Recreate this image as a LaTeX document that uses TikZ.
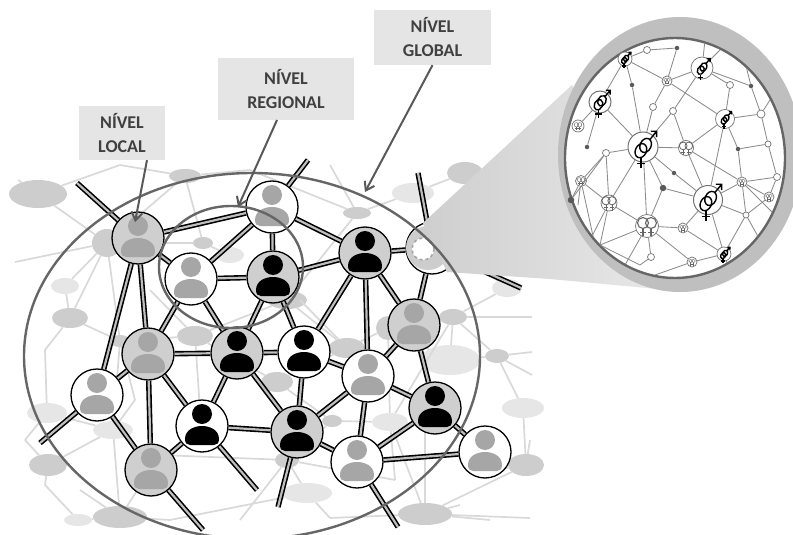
\documentclass[tikz,border=0pt]{standalone}
\usepackage{fontspec}
\setmainfont{Carlito}
\usetikzlibrary{shapes.geometric,arrows.meta}
\definecolor{bgA}{HTML}{CDCDCD}
\definecolor{bgB}{HTML}{E6E6E6}
\definecolor{nodeg}{HTML}{CFCFCF}
\definecolor{persg}{HTML}{A6A6A6}
\definecolor{ringc}{HTML}{666666}
\tikzset{
  x=1pt,y=-1pt,
  bgell/.style={ellipse,inner sep=0,fill=#1,draw=none},
  bgline/.style={draw=black!15,line width=1.7pt},
  bar/.style={draw=black,line width=1.6pt,double=black!25,double distance=2.2pt},
  person/.style={path picture={
    \fill[#1,shift={(path picture bounding box.center)}]
      (0,-12) circle[radius=10]
      (-17,13) .. controls (-17,4) and (-8,0) .. (0,0) .. controls (8,0) and (17,4) .. (17,13)
      .. controls (17,17) and (15,19) .. (12,19) -- (-12,19) .. controls (-15,19) and (-17,17) .. (-17,13) -- cycle;}},
  pnode/.style 2 args={circle,draw=black,line width=1.3pt,fill=#1,minimum size=52pt,inner sep=0,person=#2},
  lab/.style={fill=black!10,text=black!75,font=\fontsize{18}{24}\selectfont\bfseries,align=center,inner sep=0},
  callout/.style={draw=black!65,line width=2pt,-{Straight Barb[length=8pt,width=11pt]}},
  ring/.style={draw=ringc,line width=2.4pt},
  sn/.style={circle,draw=black!55,fill=white,line width=.7pt,inner sep=0},
  dot/.style={circle,fill=black!65,inner sep=0},
  nl/.style={draw=black!45,line width=.85pt},
}
\newcommand{\bgn}[6]{\node[bgell=#6,minimum width=#4*2pt,minimum height=#5*2pt] (#1) at (#2,#3) {};}
% interlocked female and male sign: #1 node, #2 scale
\newcommand{\gmix}[2]{\begin{scope}[shift={(#1)},scale=#2,draw=black,line width=1.4pt]
  \draw (-2,3.5) ellipse[x radius=5.2,y radius=7,rotate=-25];
  \draw (2.5,-1.5) ellipse[x radius=5.2,y radius=7,rotate=-25];
  \draw (6.5,-7) -- (13,-15) (7.5,-15) -- (13,-15) -- (13,-9.5);
  \draw (-2,10.5) -- (-2,20) (-6,15.5) -- (2,15.5);
\end{scope}}
% doubled female sign: #1 node, #2 scale
\newcommand{\gfem}[2]{\begin{scope}[shift={(#1)},scale=#2,draw=black!60,line width=#2*1.1pt]
  \draw (-4,-3) circle[radius=5.5] (4,-3) circle[radius=5.5];
  \draw (-4,2.5) -- (-4,10) (4,2.5) -- (4,10) (-7,6.5) -- (-1,6.5) (1,6.5) -- (7,6.5);
\end{scope}}
\begin{document}
\begin{tikzpicture}
\useasboundingbox (0,0) rectangle (793,535);
\fill[white] (0,0) rectangle (793,535);

% faint background network
\foreach \n/\x/\y in {c1/18/180,c2/15/262,c3/120/165,c4/250/170,c5/330/165,c6/45/350,c7/25/440,c8/45/485,c9/80/490,c10/532/317,c11/532/352,c12/532/375,c13/530/440,c14/530/518,c15/330/518,c16/425/430,c17/160/455,c18/200/410,c19/240/520,c20/300/300,c21/500/200,c22/445/240,c23/170/520,c24/135/400,c25/150/290,c26/495/470,c27/460/505,c28/395/480,c29/490/520}
  \coordinate (\n) at (\x,\y);
\bgn{g1}{38}{194}{29}{14}{bgA}
\bgn{g2}{107}{243}{15}{14}{bgA}
\bgn{g3}{185}{176}{16}{7}{bgA}
\bgn{g4}{203}{243}{10}{6}{bgA}
\bgn{g5}{357}{213}{14}{6}{bgA}
\bgn{g6}{70}{318}{18}{10}{bgA}
\bgn{g7}{65}{286}{14}{8}{bgB}
\bgn{g8}{195}{336}{18}{10}{bgA}
\bgn{g9}{120}{341}{10}{6}{bgA}
\bgn{g10}{230}{255}{14}{8}{bgB}
\bgn{g11}{287}{300}{20}{9}{bgA}
\bgn{g12}{48}{465}{19}{11}{bgA}
\bgn{g13}{120}{517}{27}{11}{bgA}
\bgn{g14}{78}{520}{14}{6}{bgB}
\bgn{g15}{47}{413}{20}{10}{bgB}
\bgn{g16}{113}{430}{20}{9}{bgB}
\bgn{g17}{277}{382}{16}{10}{bgA}
\bgn{g18}{287}{460}{12}{8}{bgA}
\bgn{g19}{465}{173}{18}{11}{bgA}
\bgn{g20}{413}{193}{21}{10}{bgB}
\bgn{g21}{453}{317}{14}{8}{bgA}
\bgn{g22}{497}{356}{12}{7}{bgA}
\bgn{g23}{523}{408}{21}{10}{bgB}
\bgn{g24}{526}{465}{18}{11}{bgA}
\bgn{g25}{425}{514}{27}{11}{bgA}
\bgn{g26}{347}{348}{18}{10}{bgA}
\bgn{g27}{450}{360}{30}{15}{bgB}
\bgn{g28}{388}{328}{12}{12}{bgA}
\bgn{g29}{307}{493}{25}{10}{bgB}
\bgn{g30}{390}{422}{18}{9}{bgB}
\bgn{g31}{332}{421}{10}{6}{bgA}
\bgn{g32}{507}{288}{15}{9}{bgB}
\foreach \a/\b in {g1/c1,g1/c3,g2/g1,g2/g3,g2/g4,g2/c2,g2/g7,g3/c3,g3/c4,g3/g4,g4/g10,g5/c4,g5/c5,g5/g20,g5/g11,g20/g19,g19/c21,g6/g7,g6/g2,g6/c6,g6/g9,g9/g8,g9/g2,g8/g11,g8/c25,g15/c6,g15/c7,g15/g16,g12/c7,g12/c8,g12/g16,g13/c9,g13/g14,g13/g16,g14/c8,g13/c17,g16/g9,g17/g8,g17/g31,g18/g31,g18/c19,g18/c17,g29/g18,g29/c15,g30/g31,g30/g28,g30/g25,g30/g21,g28/g26,g28/g21,g21/c10,g21/g27,g21/g32,g27/g22,g22/c11,g22/c12,g22/g23,g23/g24,g24/c13,g24/c26,g25/g24,g25/c14,g25/c15,g25/c16,g26/g11,g26/c20,g27/g28,g22/g21,g29/c23,g13/c23,g18/c28,g30/c28,c27/g25,c29/g25,g32/c22,g17/g26,c18/g8,c24/g9,c24/g16}
  \draw[bgline] (\a) -- (\b);

% people
\node[pnode={nodeg}{persg}] (A) at (138,238) {};
\node[pnode={white}{persg}] (B) at (272,207) {};
\node[pnode={white}{persg}] (C) at (191,279) {};
\node[pnode={nodeg}{black}] (D) at (273,277) {};
\node[pnode={nodeg}{black}] (E) at (365,253) {};
\node[circle,draw=black,line width=1.3pt,fill=white,minimum size=52pt,inner sep=0] (F) at (432,248) {};
\node[pnode={nodeg}{persg}] (G) at (414,325) {};
\node[pnode={nodeg}{persg}] (H) at (148,354) {};
\node[pnode={nodeg}{black}] (I) at (237,353) {};
\node[pnode={white}{black}] (J) at (304,352) {};
\node[pnode={white}{persg}] (K) at (368,376) {};
\node[pnode={white}{persg}] (L) at (97,395) {};
\node[pnode={white}{black}] (M) at (202,426) {};
\node[pnode={nodeg}{black}] (N) at (297,432) {};
\node[pnode={nodeg}{black}] (O) at (435,408) {};
\node[pnode={nodeg}{persg}] (P) at (151,470) {};
\node[pnode={white}{persg}] (Q) at (357,462) {};
\node[pnode={white}{persg}] (R) at (485,452) {};
\node[circle,fill=bgA,inner sep=0,minimum size=44pt] (Fa) at (428,248) {};
\node[circle,draw=black!35,dashed,line width=1.6pt,fill=white,inner sep=0,minimum size=22pt] (Fb) at (423,249) {};

\coordinate (fA) at (77,183);
\coordinate (fB) at (308,160);
\coordinate (fFu) at (418,173);
\coordinate (fFr) at (521,288);
\coordinate (fL) at (40,443);
\coordinate (fM) at (257,490);
\coordinate (fN) at (278,507);
\coordinate (fQ) at (398,527);
\coordinate (fP) at (203,530);
\foreach \a/\b in {A/fA,A/B,A/C,A/H,A/L,B/C,B/D,B/E,B/fB,C/D,C/H,C/I,D/E,D/I,D/J,E/F,E/G,E/J,E/K,F/G,F/fFu,F/fFr,G/K,G/O,H/I,H/L,H/P,H/M,I/J,I/M,I/N,J/K,J/N,K/O,K/N,K/Q,L/P,L/fL,M/N,M/P,M/fM,N/Q,N/fN,O/Q,O/R,Q/R,Q/fQ,P/fP}
  \draw[bar] (\a) -- (\b);

% magnifying cone and lens
\shade[left color=black!19,right color=black!8,draw=none]
  (423,223) -- (572,85) -- (690,292) -- (550,279) -- (447,272) -- cycle;
\fill[black!25] (680,154.5) ellipse[x radius=122,y radius=137.5];
\node[ellipse,draw=ringc,line width=2.4pt,fill=white,minimum width=220pt,minimum height=240pt,inner sep=0] (lens) at (675,158) {};
\node[dot,minimum size=6.5pt] (dd) at (571,200) {};

% inset network
\node[sn,minimum size=30pt,line width=1pt] (a) at (643,147) {};
\node[sn,minimum size=22pt,line width=1pt] (b) at (600,102) {};
\node[sn,minimum size=29pt,line width=1pt] (c) at (708,200) {};
\node[sn,minimum size=22pt] (d) at (702,68) {};
\node[sn,minimum size=19pt] (e) at (725,119) {};
\node[sn,minimum size=14pt] (f) at (625,59) {};
\node[sn,minimum size=23pt] (g) at (647,226) {};
\node[sn,minimum size=15pt] (h) at (686,148) {};
\node[sn,minimum size=16pt] (i) at (609,203) {};
\node[sn,minimum size=14pt] (j) at (724,254) {};
\foreach \n/\x/\y/\s in {k/667/81/10,l/647/50/7,m/730/85/7,n/653/107/7,o/673/111/7,p/578/126/12,q/606/153/7,r/581/181/11,s/742/182/10,t/769/197/10,u/777/177/7,v/768/144/6,w/761/114/8,x/746/215/6,y/683/228/10,z/692/262/10,aa/651/257/7}
  \node[sn,minimum size=\s pt] (\n) at (\x,\y) {};
\foreach \n/\x/\y/\s in {da/677/48/4.5,db/632/85/4.5,dc/587/147/4.5,de/663/188/6.5,df/674/173/4.5,dg/738/149/4.5,dh/751/86/4.5}
  \node[dot,minimum size=\s pt] (\n) at (\x,\y) {};
\foreach \n/\x/\y in {e1/705/40,e2/720/50,e3/745/62,e4/770/100,e5/775/215,e6/760/240,e7/600/245,e8/590/240,e9/578/205,e10/640/265,e11/655/275,e12/730/272,e13/625/265,e14/600/268}
  \coordinate (\n) at (\x,\y);
\begin{scope}
\clip (675,158) ellipse[x radius=109,y radius=119];
\foreach \p/\q in {a/b,a/db,db/f,a/o,a/h,a/q,a/i,a/g,a/df,df/c,a/de,de/c,de/g,b/p,b/dc,b/f,f/l,f/k,k/d,k/e,k/n,n/a,o/d,o/h,d/m,m/e,d/e1,d/e2,d/dh,dh/e3,e/h,e/w,e/dg,e/c,w/v,w/e4,w/dh,v/dg,dg/s,h/s,h/c,s/u,s/t,s/c,s/x,c/x,c/j,c/y,g/y,g/i,g/aa,g/z,q/r,q/i,q/dd,r/i,r/dd,r/e9,i/e8,i/e7,g/e7,e7/e10,g/e13,y/j,z/j,x/j,t/x,t/u,x/e6,s/e5,z/e11,j/e12,l/da,da/k,aa/e10,r/e14,v/u}
  \draw[nl] (\p) -- (\q);
\end{scope}
\gmix{a}{1.05}
\gmix{b}{.78}
\gmix{c}{1.05}
\gmix{d}{.62}
\gmix{e}{.5}
\gmix{f}{.45}
\gmix{j}{.45}
\gfem{g}{1}
\gfem{h}{.7}
\gfem{i}{.75}
\gfem{k}{.35}
\gfem{p}{.4}
\gfem{r}{.4}
\gfem{s}{.35}
\gfem{t}{.35}
\gfem{y}{.35}
\gfem{z}{.35}

% zones
\node[ellipse,ring,minimum width=456pt,minimum height=366pt,inner sep=0] (global) at (252,356) {};
\node[ellipse,ring,minimum width=144pt,minimum height=122pt,inner sep=0] (regional) at (231,267) {};

% labels
\node[lab,minimum width=86pt,minimum height=54pt] (lL) at (122,133) {NÍVEL\\LOCAL};
\node[lab,minimum width=136pt,minimum height=62pt] (lR) at (286,89) {NÍVEL\\REGIONAL};
\node[lab,minimum width=117pt,minimum height=55pt] (lG) at (432.5,37.5) {NÍVEL\\GLOBAL};
\coordinate (tL) at (135,222);
\coordinate (tR) at (238,207);
\coordinate (tG) at (365,192);
\draw[callout] (lL.south) ++(25,0) coordinate (sL) -- (tL);
\draw[callout] (277,120) coordinate (sR) -- (tR);
\draw[callout] (lG.south) -- (tG);
\end{tikzpicture}
\end{document}
